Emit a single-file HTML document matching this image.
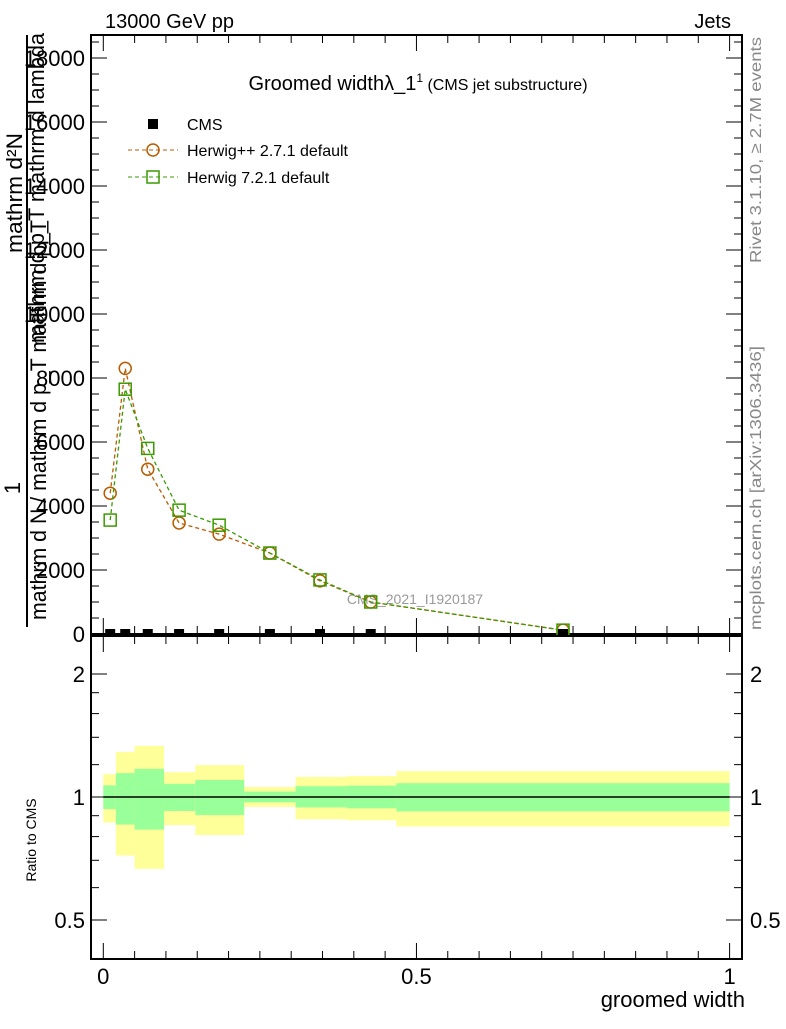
<!DOCTYPE html>
<html><head><meta charset="utf-8"><style>
body{margin:0;background:#fff}
svg text{font-family:"Liberation Sans",sans-serif}
</style></head><body>
<svg id="c" width="786" height="1024" xmlns="http://www.w3.org/2000/svg">
<text x="105" y="28" font-size="20">13000 GeV pp</text>
<text x="731" y="28" font-size="20" text-anchor="end">Jets</text>
<text x="418" y="90" font-size="20" text-anchor="middle">Groomed widthλ_1<tspan font-size="12" dy="-8">1</tspan><tspan font-size="16" dy="8"> (CMS jet substructure)</tspan></text>
<text transform="translate(761,150) rotate(-90)" font-size="16" fill="#888" text-anchor="middle" textLength="226" lengthAdjust="spacingAndGlyphs">Rivet 3.1.10, ≥ 2.7M events</text>
<text transform="translate(761,488) rotate(-90)" font-size="16" fill="#888" text-anchor="middle" textLength="284" lengthAdjust="spacingAndGlyphs">mcplots.cern.ch [arXiv:1306.3436]</text>
<g font-size="22">
<text transform="translate(22,193) rotate(-90)" text-anchor="middle" textLength="120" lengthAdjust="spacingAndGlyphs">mathrm d²N</text>
<text transform="translate(44,188) rotate(-90)" text-anchor="middle" textLength="310" lengthAdjust="spacingAndGlyphs">mathrm d p_T mathrm d lambda</text>
<text transform="translate(20,488) rotate(-90)" text-anchor="middle">1</text>
<text transform="translate(46,420) rotate(-90)" text-anchor="middle" textLength="400" lengthAdjust="spacingAndGlyphs">mathrm d N / mathrm d p_T mathrm d p_T</text>
<line x1="27" y1="35" x2="27" y2="627" stroke="#000" stroke-width="2"/>
</g>
<text x="36" y="840" font-size="14" transform="rotate(-90 36 840)" text-anchor="middle">Ratio to CMS</text>
<text x="745" y="1007" font-size="22" text-anchor="end">groomed width</text>
<text x="415" y="604" font-size="14" fill="#999" text-anchor="middle">CMS_2021_I1920187</text>
<g id="main"></g><g id="ratio"></g>
<g>
<rect x="148" y="119" width="10" height="10" fill="#000"/>
<text x="187" y="130" font-size="16">CMS</text>
<line x1="128" y1="150" x2="178" y2="150" stroke="#b85c00" stroke-dasharray="4,3"/>
<circle cx="153" cy="150" r="6" fill="none" stroke="#b85c00" stroke-width="1.5"/>
<text x="187" y="156" font-size="16">Herwig++ 2.7.1 default</text>
<line x1="128" y1="177" x2="178" y2="177" stroke="#3a9a00" stroke-dasharray="4,3"/>
<rect x="147" y="171" width="12" height="12" fill="none" stroke="#3a9a00" stroke-width="1.5"/>
<text x="187" y="183" font-size="16">Herwig 7.2.1 default</text>
</g>
</svg>
<script>
const xs=[0.011,0.035,0.071,0.121,0.185,0.266,0.346,0.427,0.734];
const cmsVals=[0,0,0,0,0,0,0,0,0];
const herwigPP=[4400,8300,5150,3470,3120,2530,1660,1000,120];
const herwig7=[3560,7650,5800,3870,3400,2530,1690,1000,120];
const yTicks=[0,2000,4000,6000,8000,10000,12000,14000,16000,18000];
const binEdges=[0,0.02,0.05,0.097,0.147,0.225,0.307,0.389,0.468,1.0];
const greenHi=[1.068,1.144,1.172,1.077,1.101,1.031,1.063,1.066,1.081];
const greenLo=[0.934,0.856,0.832,0.924,0.903,0.970,0.943,0.938,0.922];
const yellowHi=[1.137,1.289,1.334,1.150,1.197,1.058,1.120,1.125,1.157];
const yellowLo=[0.866,0.719,0.667,0.853,0.807,0.946,0.882,0.877,0.847];
const ratioTicks=[0.5,1,2];
const xTicks=[0,0.5,1];
const NS='http://www.w3.org/2000/svg';
const L=91,R=742,T=35,B=634,RT=636,RB=959;
const X=v=>103.3+v*626.3;
const Y=v=>634-v*0.032;
const RY=v=>797-Math.log2(v)*123;
function mk(p,t,a){const e=document.createElementNS(NS,t);for(const k in a)e.setAttribute(k,a[k]);p.appendChild(e);return e;}
const m=document.getElementById('main'),r=document.getElementById('ratio');
for(let i=0;i<binEdges.length-1;i++){
 const y=mk(r,'rect',{x:X(binEdges[i]),y:RY(yellowHi[i]),width:X(binEdges[i+1])-X(binEdges[i]),height:RY(yellowLo[i])-RY(yellowHi[i]),fill:'#ffff99'});
 
 
 const g=mk(r,'rect',{x:X(binEdges[i]),y:RY(greenHi[i]),width:X(binEdges[i+1])-X(binEdges[i]),height:RY(greenLo[i])-RY(greenHi[i]),fill:'#99ff99'});
 
 
}
const ul=mk(r,'line',{x1:X(0),x2:X(1),y1:RY(1),y2:RY(1),stroke:'#000','stroke-width':1.5});


const f1=mk(m,'rect',{x:L,y:T,width:R-L,height:B-T,fill:'none',stroke:'#000','stroke-width':2});


const f2=mk(r,'rect',{x:L,y:RT,width:R-L,height:RB-RT,fill:'none',stroke:'#000','stroke-width':2});


for(let v=0;v<=18500;v+=500){const big=v%2000===0;const y=Y(v);
 mk(m,'line',{x1:L,x2:L+(big?16:8),y1:y,y2:y,stroke:'#000'});mk(m,'line',{x1:R,x2:R-(big?16:8),y1:y,y2:y,stroke:'#000'});}
yTicks.forEach(v=>{const t=mk(m,'text',{x:85,y:Y(v)+8,'font-size':22,'text-anchor':'end'});t.textContent=v;
 
 });
for(let i=0;i<=20;i++){const v=i*0.05,big=i%10===0,x=X(v);
 mk(m,'line',{x1:x,x2:x,y1:B,y2:B-(big?16:8),stroke:'#000'});mk(m,'line',{x1:x,x2:x,y1:T,y2:T+(big?16:8),stroke:'#000'});
 mk(r,'line',{x1:x,x2:x,y1:RB,y2:RB-(big?16:8),stroke:'#000'});mk(r,'line',{x1:x,x2:x,y1:RT,y2:RT+(big?16:8),stroke:'#000'});}
xTicks.forEach(v=>{const t=mk(r,'text',{x:X(v),y:984,'font-size':22,'text-anchor':'middle'});t.textContent=v;
 
 });
[0.5,0.6,0.7,0.8,0.9,1,1.2,1.4,1.6,1.8,2].forEach(v=>{const big=ratioTicks.includes(v),y=RY(v);
 mk(r,'line',{x1:L,x2:L+(big?16:8),y1:y,y2:y,stroke:'#000'});mk(r,'line',{x1:R,x2:R-(big?16:8),y1:y,y2:y,stroke:'#000'});});
ratioTicks.forEach(v=>{[[85,'end'],[750,'start']].forEach(([x,a])=>{const t=mk(r,'text',{x:x,y:RY(v)+8,'font-size':22,'text-anchor':a});t.textContent=v;
 
 });});
function series(vals,col,shape,name){
 const pl=mk(m,'polyline',{points:xs.map((x,i)=>X(x)+','+Y(vals[i])).join(' '),fill:'none',stroke:col,'stroke-dasharray':'4,3','stroke-width':1.3});
 
 
 xs.forEach((x,i)=>{let e;
  if(shape==='c')e=mk(m,'circle',{cx:X(x),cy:Y(vals[i]),r:6,fill:'none',stroke:col,'stroke-width':1.5});
  else e=mk(m,'rect',{x:X(x)-6,y:Y(vals[i])-6,width:12,height:12,fill:'none',stroke:col,'stroke-width':1.5});
  
  });
}
series(herwigPP,'#b85c00','c','herwigpp');
series(herwig7,'#3a9a00','s','herwig7');
xs.forEach((x,i)=>{const e=mk(m,'rect',{x:X(x)-5,y:Y(cmsVals[i])-5,width:10,height:6,fill:'#000'});
 
 });
</script>
</body></html>
